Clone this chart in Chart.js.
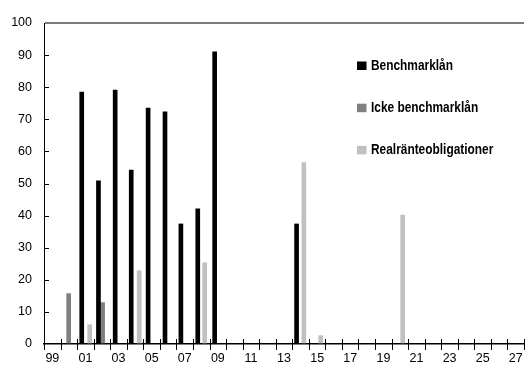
<!DOCTYPE html>
<html>
<head>
<meta charset="utf-8">
<script src="https://cdn.jsdelivr.net/npm/chart.js@4"></script>
<style>
  html, body { margin: 0; padding: 0; background: #fff; }
  #wrap { width: 531px; height: 372px; }
</style>
</head>
<body>
<div id="wrap"><canvas id="chart" width="531" height="372"></canvas></div>
<script>
// Löptider (år, med bråkdel) och utestående volym
const benchmarkX = [2001.28, 2002.29, 2003.30, 2004.27, 2005.29, 2006.31, 2007.27, 2008.29, 2009.31, 2014.26];
const benchmarkY = [78.5, 50.8, 79.1, 54.2, 73.5, 72.3, 37.4, 42.1, 91.0, 37.4];
const ickeX = [2000.49, 2002.54];
const ickeY = [15.7, 12.9];
const realX = [2001.76, 2004.75, 2008.71, 2014.70, 2015.72, 2020.67];
const realY = [6.0, 22.8, 25.3, 56.5, 2.6, 40.2];

const seriesLabels = ['Benchmarklån', 'Icke benchmarklån', 'Realränteobligationer'];
const seriesColors = ['#000000', '#808080', '#c0c0c0'];
const yearMin = 1999;
const yearMax = 2028;
const yTicks = [0, 10, 20, 30, 40, 50, 60, 70, 80, 90, 100];

const FONT = "'Liberation Sans', Arial, sans-serif";

function toPoints(xs, ys) {
    return xs.map((x, i) => ({ x: x, y: ys[i] }));
}

// tickmarkeringar: korsar x-axeln, pekar inåt på y-axeln
const crossTicks = {
    id: 'crossTicks',
    afterDraw(chart) {
        const ctx = chart.ctx;
        const xs = chart.scales.x;
        const ys = chart.scales.y;
        const y0 = ys.getPixelForValue(0);
        ctx.save();
        ctx.strokeStyle = '#000';
        ctx.lineWidth = 1;
        for (let v = yearMin; v <= yearMax; v++) {
            const px = Math.round(xs.getPixelForValue(v)) + 0.5;
            ctx.beginPath();
            ctx.moveTo(px, y0 - 5);
            ctx.lineTo(px, y0 + 6);
            ctx.stroke();
        }
        yTicks.forEach(v => {
            if (v === 0 || v === 100) return;
            const py = Math.round(ys.getPixelForValue(v)) + 0.5;
            ctx.beginPath();
            ctx.moveTo(xs.left, py);
            ctx.lineTo(xs.left + 5, py);
            ctx.stroke();
        });
        ctx.restore();
    }
};

// legend inne i diagrammet, smal (kondenserad) text
const boxLegend = {
    id: 'boxLegend',
    afterDraw(chart) {
        const ctx = chart.ctx;
        ctx.save();
        ctx.font = "bold 14px " + FONT;
        ctx.textBaseline = 'alphabetic';
        chart.data.datasets.forEach((ds, i) => {
            const base = 70 + i * 42.2;
            ctx.fillStyle = ds.backgroundColor;
            ctx.fillRect(357, base - 8.5, 9.5, 8.5);
            ctx.save();
            ctx.translate(371, base);
            ctx.scale(0.85, 1);
            ctx.fillStyle = '#000';
            ctx.fillText(ds.label, 0, 0);
            ctx.restore();
        });
        ctx.restore();
    }
};

const ctx = document.getElementById('chart').getContext('2d');
new Chart(ctx, {
    type: 'bar',
    data: {
        datasets: [
            { label: seriesLabels[0], data: toPoints(benchmarkX, benchmarkY), backgroundColor: seriesColors[0] },
            { label: seriesLabels[1], data: toPoints(ickeX, ickeY), backgroundColor: seriesColors[1] },
            { label: seriesLabels[2], data: toPoints(realX, realY), backgroundColor: seriesColors[2] },
        ],
    },
    options: {
        responsive: false,
        animation: false,
        datasets: {
            bar: { grouped: false, barThickness: 4 },
        },
        layout: { padding: { top: 23, right: 3, left: 0, bottom: 0 } },
        plugins: {
            legend: { display: false },
            title: { display: false },
            tooltip: { enabled: false },
        },
        scales: {
            x: {
                type: 'linear',
                offset: false,
                min: yearMin,
                max: yearMax,
                grid: { display: false, drawTicks: false },
                border: { color: '#000', width: 1.5 },
                afterFit: (scale) => { scale.height = 28; },
                ticks: {
                    stepSize: 1,
                    autoSkip: false,
                    maxRotation: 0,
                    labelOffset: 8.35,
                    padding: 7,
                    color: '#000',
                    font: { family: FONT, size: 12.5 },
                    callback: (value) => (value - yearMin) % 2 === 0 && value < yearMax
                        ? String(value % 100).padStart(2, '0') : '',
                },
            },
            y: {
                min: 0,
                max: 100,
                afterFit: (scale) => { scale.width = 44; },
                afterBuildTicks: (scale) => { scale.ticks = yTicks.map(v => ({ value: v })); },
                grid: {
                    drawTicks: false,
                    color: (c) => c.tick && c.tick.value === 100 ? '#7a7a7a' : 'rgba(0,0,0,0)',
                    lineWidth: 2,
                },
                border: { color: '#000', width: 1 },
                ticks: {
                    padding: 12,
                    color: '#000',
                    font: { family: FONT, size: 12.5 },
                },
            },
        },
    },
    plugins: [crossTicks, boxLegend],
});
</script>
</body>
</html>
